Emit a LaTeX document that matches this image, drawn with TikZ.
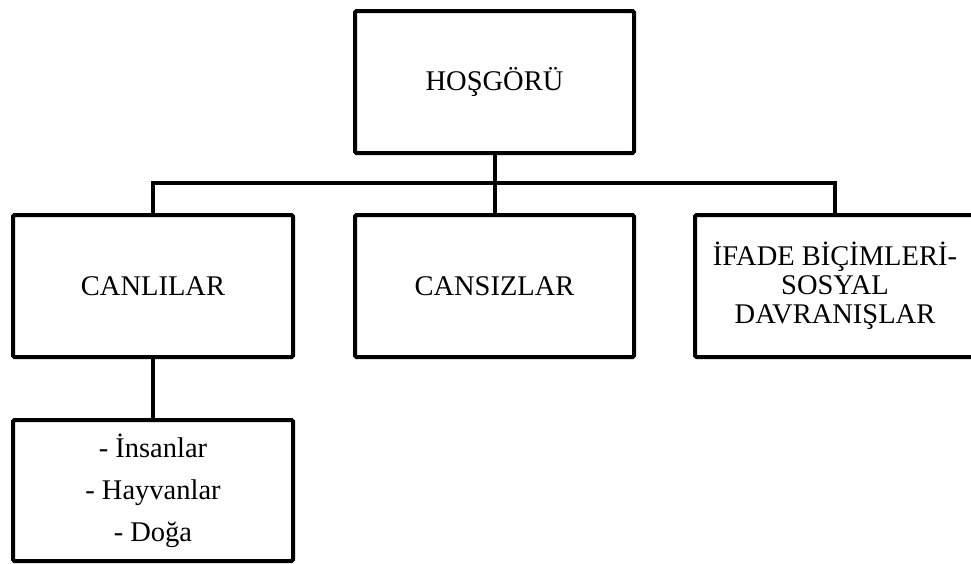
\documentclass[tikz,border=0pt]{standalone}
\usepackage{fontspec}
\setmainfont{Liberation Serif}
\begin{document}
\begin{tikzpicture}[x=1pt,y=-1pt,
  box/.style={draw, line width=4pt, rounded corners=1.5pt, minimum width=280pt,
    minimum height=142pt, inner sep=0pt, align=center,
    font=\fontsize{28.5}{29}\selectfont},
  conn/.style={line width=4pt}]
\useasboundingbox (0,0) rectangle (971,563);
\clip (0,0) rectangle (971,563);
\node[box, minimum width=279pt] (top) at (494.5,82) {HOŞGÖRÜ};
\node[box] (canli) at (153,286) {CANLILAR};
\node[box, minimum width=279pt] (cansiz) at (494.5,286) {CANSIZLAR};
\node[box] (ifade) at (835,286) {İFADE BİÇİMLERİ-\\SOSYAL\\DAVRANIŞLAR};
\node[box, minimum height=141pt, font=\fontsize{28.5}{42}\selectfont] (sub) at (153,490.5) {- İnsanlar\\- Hayvanlar\\- Doğa};
\coordinate (bus) at (494.5,183);
\draw[conn] (top.south) -- (cansiz.north);
\draw[conn] (canli.north) |- (bus) -| (ifade.north);
\draw[conn] (canli.south) -- (sub.north);
\end{tikzpicture}
\end{document}
